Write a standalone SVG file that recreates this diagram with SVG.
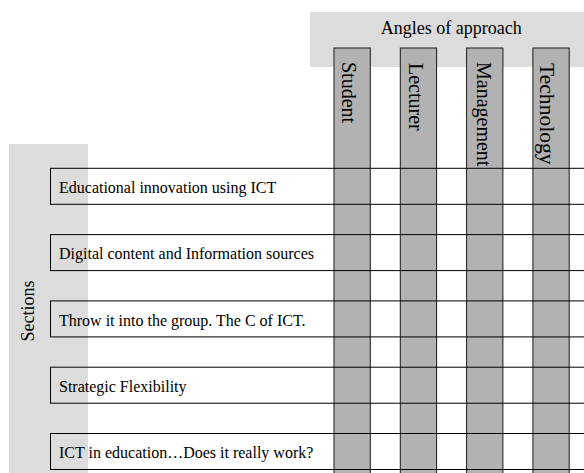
<svg xmlns="http://www.w3.org/2000/svg" width="584" height="473" viewBox="0 0 584 473">
<style>
.band{fill:#dcdcdc;stroke:none}
.col{fill:#b2b2b2;stroke:#1a1a1a;stroke-width:1}
.row{fill:none;stroke:#000;stroke-width:1}
.t{font-family:"Liberation Serif","Times New Roman",serif;fill:#000}
.hd{font-size:18px}
.rl{font-size:16px}
.cl{font-size:20px}
</style>
<rect width="584" height="473" fill="#fff"/>
<g id="angles-band">
<rect class="band" x="310" y="12" width="290" height="55"/>
<text class="t hd" x="451.3" y="33.5" text-anchor="middle">Angles of approach</text>
</g>
<g id="sections-band">
<rect class="band" x="9" y="144" width="79" height="340"/>
<text class="t hd" transform="translate(33.5,311) rotate(-90)" text-anchor="middle">Sections</text>
</g>
<g id="col-student">
<rect class="col" x="334" y="48" width="36.3" height="440"/>
<text class="t cl" transform="translate(342,62) rotate(90)">Student</text>
</g>
<g id="col-lecturer">
<rect class="col" x="400.3" y="48" width="36.3" height="440"/>
<text class="t cl" transform="translate(409.3,63) rotate(90)">Lecturer</text>
</g>
<g id="col-management">
<rect class="col" x="466.6" y="48" width="36.3" height="440"/>
<text class="t cl" transform="translate(477,62) rotate(90)">Management</text>
</g>
<g id="col-technology">
<rect class="col" x="532.9" y="48" width="36.3" height="440"/>
<text class="t cl" style="font-size:21.6px" transform="translate(540,63) rotate(90)">Technology</text>
</g>
<g id="row-1">
<rect class="row" x="50.5" y="168.3" width="560" height="36"/>
<text class="t rl" x="59" y="193">Educational innovation using ICT</text>
</g>
<g id="row-2">
<rect class="row" x="50.5" y="234.6" width="560" height="36"/>
<text class="t rl" x="59" y="259.3">Digital content and Information sources</text>
</g>
<g id="row-3">
<rect class="row" x="50.5" y="300.9" width="560" height="36"/>
<text class="t rl" x="59" y="325.6">Throw it into the group. The C of ICT.</text>
</g>
<g id="row-4">
<rect class="row" x="50.5" y="367.2" width="560" height="36"/>
<text class="t rl" x="59" y="391.9">Strategic Flexibility</text>
</g>
<g id="row-5">
<rect class="row" x="50.5" y="433.5" width="560" height="36"/>
<text class="t rl" x="59" y="458.2">ICT in education…Does it really work?</text>
</g>
<g id="connectors"></g>
</svg>
